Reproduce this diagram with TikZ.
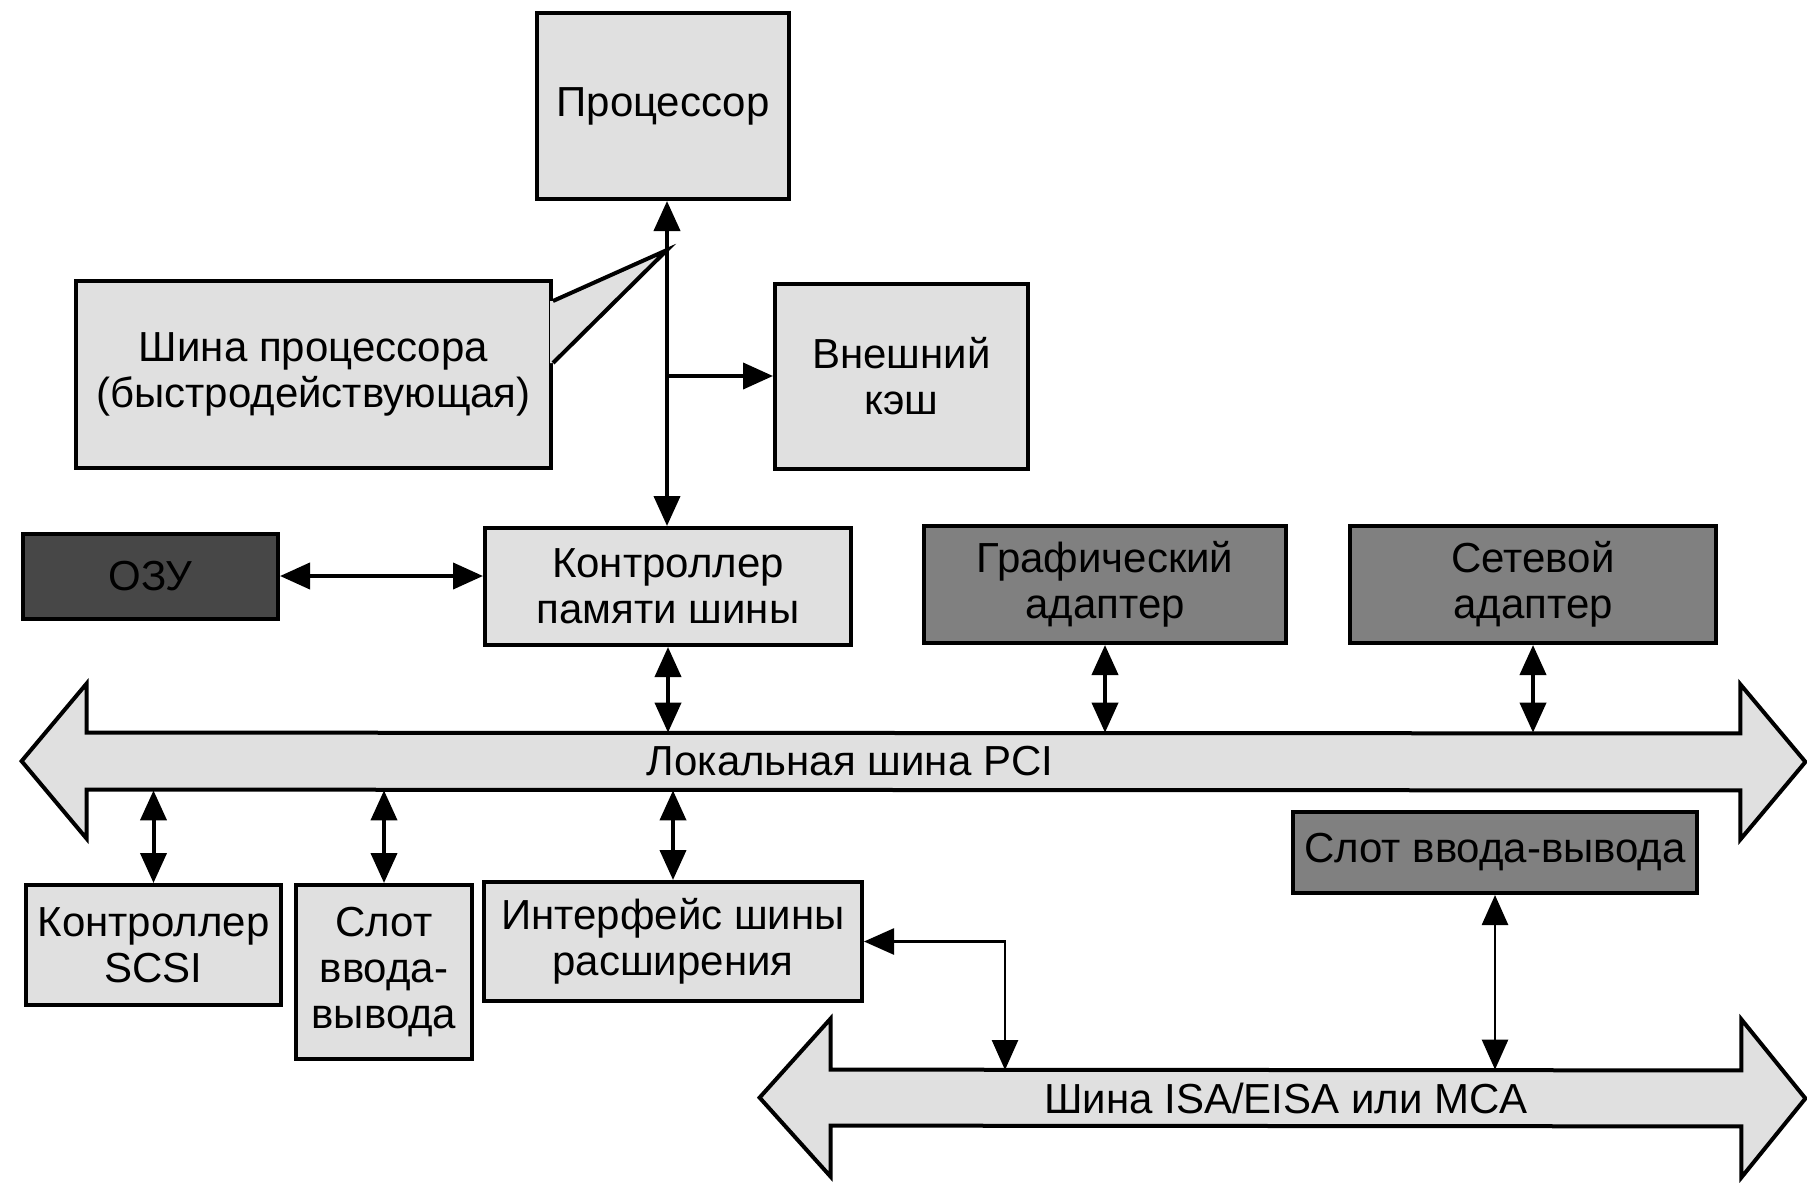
\documentclass[tikz,border=0pt]{standalone}
\usepackage{fontspec}
\setmainfont{Liberation Sans}
\usetikzlibrary{positioning,arrows.meta,backgrounds}

\begin{document}
\begin{tikzpicture}[
    x=0.5pt, y=-0.5pt,
    font=\fontsize{21}{23}\selectfont, >={Triangle[length=15pt,width=13pt]},
    box/.style={draw, line width=2pt, fill=black!12, align=center, inner sep=2pt},
    dark/.style={box, fill=black!50},
    bus/.style={draw, line width=2pt, fill=black!12, line join=miter},
    flow/.style={<->, line width=2pt},
    thin/.style={<->, line width=1.3pt},
]
\useasboundingbox (0,0) rectangle (1807,1182);

% processor and its bus
\node[box, minimum width=126pt, minimum height=93pt] (cpu) at (663,106) {Процессор};
\node[box, minimum width=237.5pt, minimum height=93.5pt] (cpubus) at (313.5,374.5) {Шина процессора\\(быстродействующая)};
\node[box, minimum width=126.5pt, minimum height=92.5pt] (cache) at (901.5,376) {Внешний\\кэш};
\coordinate (tap) at (667,250);

% memory controller row
\node[box, minimum width=183pt, minimum height=58.5pt] (memctl) at (668,586.5) {Контроллер\\памяти шины};
\node[dark, fill=black!72, minimum width=127.5pt, minimum height=42.5pt] (ram) at (150.5,576) {ОЗУ};
\node[dark, minimum width=181pt, minimum height=58.5pt] (gfx) at (1105,584.5) {Графический\\адаптер};
\node[dark, minimum width=183pt, minimum height=58.5pt] (net) at (1533,584.5) {Сетевой\\адаптер};

% PCI
\node[minimum width=826.5pt, minimum height=28.5pt, inner sep=0pt] (pci) at (913.5,761.5) {};
\node (pcilbl) at (850,761.5) {Локальная шина PCI};

% lower row
\node[box, minimum width=127.5pt, minimum height=60pt] (scsi) at (153.5,945) {Контроллер\\SCSI};
\node[box, minimum width=88pt, minimum height=87pt] (slota) at (384,972) {Слот\\ввода-\\вывода};
\node[box, minimum width=189pt, minimum height=59.5pt] (ext) at (673,941.5) {Интерфейс шины\\расширения};
\node[dark, minimum width=202pt, minimum height=40.5pt] (slotb) at (1495,852.5) {Слот ввода-вывода};

% ISA
\node[minimum width=455pt, minimum height=28pt, inner sep=0pt] (isa) at (1286,1098) {Шина ISA/EISA или MCA};
\coordinate (isadrop) at (1005,1070);

\begin{scope}[on background layer]
    \draw[bus] (pci.north west) -- ++(0,-49) -- ++(-65,77.5) -- ++(65,77.5) -- ++(0,-49)
        -- (pci.south east) -- ++(0,49) -- ++(65,-77.5) -- ++(-65,-77.5) -- ++(0,49) -- cycle;
    \draw[bus] (isa.north west) -- ++(0,-51) -- ++(-71,79) -- ++(71,79) -- ++(0,-51)
        -- (isa.south east) -- ++(0,51) -- ++(64,-79) -- ++(-64,-79) -- ++(0,51) -- cycle;
\end{scope}

% callout pointer
\fill[black!12] ([xshift=-1.5pt,yshift=-11pt]cpubus.north east) -- ([yshift=-11pt]cpubus.north east)
    -- (tap) -- ([yshift=-42pt]cpubus.north east) -- ([xshift=-1.5pt,yshift=-42pt]cpubus.north east) -- cycle;
\draw[line width=2pt, line join=miter] ([yshift=-11pt]cpubus.north east) -- (tap) -- ([yshift=-42pt]cpubus.north east);

% connectors
\draw[flow] (tap |- cpu.south) -- (tap |- memctl.north);
\draw[->, line width=2pt] (tap |- cache.west) -- (cache.west);
\draw[flow] (ram.east) -- (ram.east -| memctl.west);
\draw[flow] (memctl.south) -- (memctl.south |- pci.north);
\draw[flow] (gfx.south) -- (gfx.south |- pci.north);
\draw[flow] (net.south) -- (net.south |- pci.north);
\draw[flow] (scsi.north |- pci.south) -- (scsi.north);
\draw[flow] (slota.north |- pci.south) -- (slota.north);
\draw[flow] (ext.north |- pci.south) -- (ext.north);
\draw[thin] (ext.east) -| (isadrop);
\draw[thin] (slotb.south) -- (slotb.south |- isa.north);
\end{tikzpicture}
\end{document}
